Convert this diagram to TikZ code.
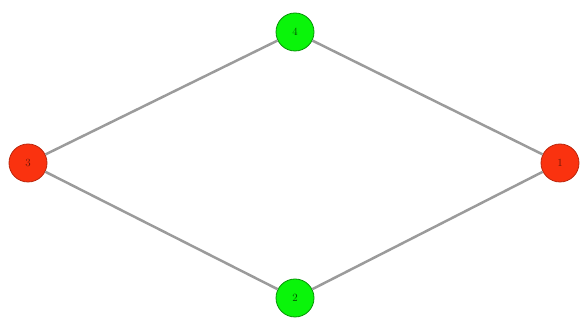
\documentclass[tikz,border=0pt]{standalone}
\definecolor{NodeRed}   {RGB}{250,50,15}
\definecolor{NodeGreen} {RGB}{10,245,10}
\definecolor{EdgeGray}  {RGB}{155,155,155}
\usetikzlibrary{positioning}

\begin{document}
\begin{tikzpicture}[x=1pt,y=1pt,
  vert/.style={circle,draw,line width=0.8pt,minimum size=38pt,inner sep=0pt,
               font=\fontsize{11}{12}\selectfont},
  redv/.style={vert,fill=NodeRed,draw=NodeRed!75!black,text=NodeRed!40!black},
  greenv/.style={vert,fill=NodeGreen,draw=NodeGreen!60!black,text=NodeGreen!30!black},
  edge/.style={EdgeGray,line width=2.5pt}]
  \useasboundingbox (0,0) rectangle (580,320);
  \node[greenv] (N4) at (295,288) {4};
  \node[redv]   (N3) at (28,157)  {3};
  \node[redv]   (N1) at (560,157) {1};
  \node[greenv] (N2) at (295,22)  {2};
  \draw[edge] (N3)--(N4);
  \draw[edge] (N4)--(N1);
  \draw[edge] (N1)--(N2);
  \draw[edge] (N2)--(N3);
\end{tikzpicture}
\end{document}
